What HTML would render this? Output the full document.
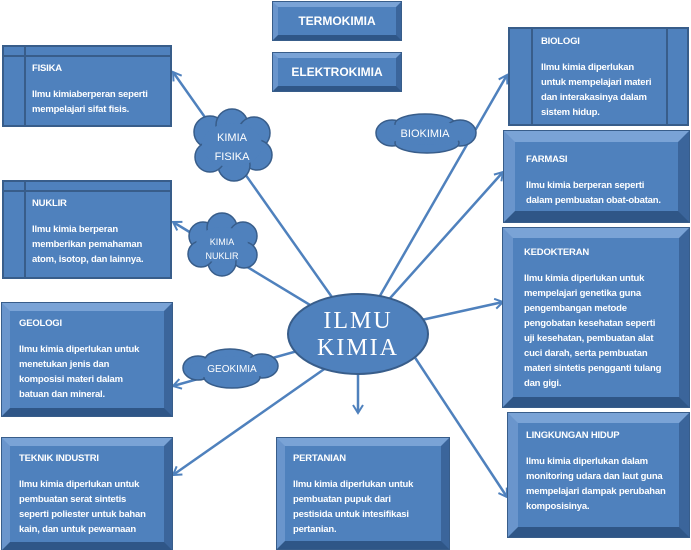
<!DOCTYPE html>
<html><head><meta charset="utf-8"><style>
*{margin:0;padding:0;box-sizing:border-box}
body{width:691px;height:550px;background:#fff;position:relative;overflow:hidden;font-family:"Liberation Sans",sans-serif}
.b{position:absolute;background:#4f81bd;color:#fff;font-weight:bold;font-size:9.5px;line-height:15px;letter-spacing:-0.2px}
.bev{border-style:solid;border-width:8px;border-top-color:#7aa3d6;border-left-color:#6a95cc;border-bottom-color:#2f5687;border-right-color:#3b659b;outline:1px solid #385d8a}
.plain{border:2px solid #385d8a}
.t{margin-bottom:11px}
.vl{position:absolute;top:0;bottom:0;width:2px;background:#385d8a}
.hl{position:absolute;left:0;right:0;height:2px;background:#385d8a}
.s{position:absolute;color:#fff;font-size:12px;font-weight:bold;text-align:center;display:flex;align-items:center;justify-content:center}
svg{position:absolute;left:0;top:0}
</style></head><body>
<svg width="691" height="550">
<defs><marker id="a" markerWidth="12" markerHeight="12" refX="9" refY="6" orient="auto" markerUnits="userSpaceOnUse"><path d="M1,1 L9,6 L1,11" fill="none" stroke="#4f81bd" stroke-width="2"/></marker></defs>
<g stroke="#4f81bd" stroke-width="2.5" fill="none">
<line x1="358" y1="334" x2="173" y2="72" marker-end="url(#a)"/>
<line x1="358" y1="334" x2="173" y2="222" marker-end="url(#a)"/>
<line x1="358" y1="334" x2="173" y2="386" marker-end="url(#a)"/>
<line x1="330" y1="365" x2="173" y2="475" marker-end="url(#a)"/>
<line x1="358" y1="360" x2="358" y2="413" marker-end="url(#a)"/>
<line x1="358" y1="334" x2="507" y2="75" marker-end="url(#a)"/>
<line x1="358" y1="334" x2="503" y2="172" marker-end="url(#a)"/>
<line x1="358" y1="334" x2="503" y2="302" marker-end="url(#a)"/>
<line x1="410" y1="350" x2="507" y2="497" marker-end="url(#a)"/>
</g>
<g fill="#4f81bd" stroke="#385d8a" stroke-width="1.5">
<g><circle cx="210" cy="132" r="16"/><circle cx="232" cy="125" r="16"/><circle cx="254" cy="133" r="16"/><circle cx="257" cy="155" r="15"/><circle cx="234" cy="165" r="16"/><circle cx="210" cy="157" r="15"/></g>
<g><circle cx="203" cy="236" r="14"/><circle cx="222" cy="228" r="15"/><circle cx="243" cy="236" r="14"/><circle cx="244" cy="255" r="13"/><circle cx="222" cy="262" r="14"/><circle cx="201" cy="254" r="13"/></g>
<g><ellipse cx="198" cy="368" rx="15" ry="12"/><ellipse cx="230" cy="360" rx="25" ry="11"/><ellipse cx="262" cy="366" rx="16" ry="12"/><ellipse cx="232" cy="377" rx="28" ry="11"/></g>
<g><ellipse cx="392" cy="133" rx="16" ry="13"/><ellipse cx="425" cy="124" rx="30" ry="10"/><ellipse cx="460" cy="133" rx="16" ry="13"/><ellipse cx="427" cy="143" rx="32" ry="10"/></g>
</g>
<g fill="#4f81bd" stroke="none">
<ellipse cx="232" cy="145" rx="30" ry="22"/><ellipse cx="222" cy="245" rx="26" ry="18"/><ellipse cx="230" cy="368" rx="40" ry="12"/><ellipse cx="426" cy="133" rx="42" ry="12"/>
</g>
<ellipse cx="358" cy="334" rx="70" ry="40" fill="#4f81bd" stroke="#385d8a" stroke-width="2"/>
<g fill="#fff" font-family="Liberation Sans,sans-serif" text-anchor="middle">
<text x="232" y="141" font-size="11">KIMIA</text><text x="232" y="160" font-size="11">FISIKA</text>
<text x="222" y="245" font-size="9">KIMIA</text><text x="222" y="259" font-size="9">NUKLIR</text>
<text x="232" y="372" font-size="10">GEOKIMIA</text>
<text x="425" y="137" font-size="11">BIOKIMIA</text>
<text x="358" y="328" font-size="24" font-family="Liberation Serif,serif" letter-spacing="2">ILMU</text>
<text x="358" y="355" font-size="24" font-family="Liberation Serif,serif" letter-spacing="2">KIMIA</text>
</g>
</svg>

<div class="s bev" style="left:273px;top:2px;width:128px;height:38px;background:#4f81bd;border-width:5px">TERMOKIMIA</div>
<div class="s bev" style="left:273px;top:53px;width:128px;height:38px;background:#4f81bd;border-width:5px">ELEKTROKIMIA</div>

<div class="b plain" style="left:2px;top:45px;width:170px;height:82px;padding:14px 0 0 28px"><div class="hl" style="top:8px"></div><div class="vl" style="left:20px"></div><div class="t">FISIKA</div>Ilmu kimiaberperan seperti<br>mempelajari sifat fisis.</div>

<div class="b plain" style="left:2px;top:180px;width:170px;height:99px;padding:14px 0 0 28px"><div class="hl" style="top:8px"></div><div class="vl" style="left:20px"></div><div class="t">NUKLIR</div>Ilmu kimia berperan<br>memberikan pemahaman<br>atom, isotop, dan lainnya.</div>

<div class="b bev" style="left:2px;top:303px;width:170px;height:113px;padding:5px 0 0 9px"><div class="t">GEOLOGI</div>Ilmu kimia diperlukan untuk<br>menetukan jenis dan<br>komposisi materi dalam<br>batuan dan mineral.</div>

<div class="b bev" style="left:2px;top:438px;width:170px;height:112px;padding:5px 0 0 9px"><div class="t">TEKNIK INDUSTRI</div>Ilmu kimia diperlukan untuk<br>pembuatan serat sintetis<br>seperti poliester untuk bahan<br>kain, dan untuk pewarnaan</div>

<div class="b bev" style="left:277px;top:438px;width:172px;height:111px;padding:5px 0 0 8px"><div class="t">PERTANIAN</div>Ilmu kimia diperlukan untuk<br>pembuatan pupuk dari<br>pestisida untuk intesifikasi<br>pertanian.</div>

<div class="b plain" style="left:508px;top:27px;width:181px;height:99px;padding:5px 0 0 31px"><div class="vl" style="left:21px"></div><div class="vl" style="left:156px"></div><div class="t">BIOLOGI</div>Ilmu kimia diperlukan<br>untuk mempelajari materi<br>dan interakasinya dalam<br>sistem hidup.</div>

<div class="b bev" style="left:504px;top:131px;width:185px;height:91px;padding:10px 0 0 11px;border-width:11px"><div class="t">FARMASI</div>Ilmu kimia berperan seperti<br>dalam pembuatan obat-obatan.</div>

<div class="b bev" style="left:503px;top:228px;width:186px;height:179px;padding:7px 0 0 11px;border-width:10px"><div class="t">KEDOKTERAN</div>Ilmu kimia diperlukan untuk<br>mempelajari genetika guna<br>pengembangan metode<br>pengobatan kesehatan seperti<br>uji kesehatan, pembuatan alat<br>cuci darah, serta pembuatan<br>materi sintetis pengganti tulang<br>dan gigi.</div>

<div class="b bev" style="left:508px;top:413px;width:181px;height:124px;padding:5px 0 0 8px;border-width:10px"><div class="t">LINGKUNGAN HIDUP</div>Ilmu kimia diperlukan dalam<br>monitoring udara dan laut guna<br>mempelajari dampak perubahan<br>komposisinya.</div>
</body></html>
